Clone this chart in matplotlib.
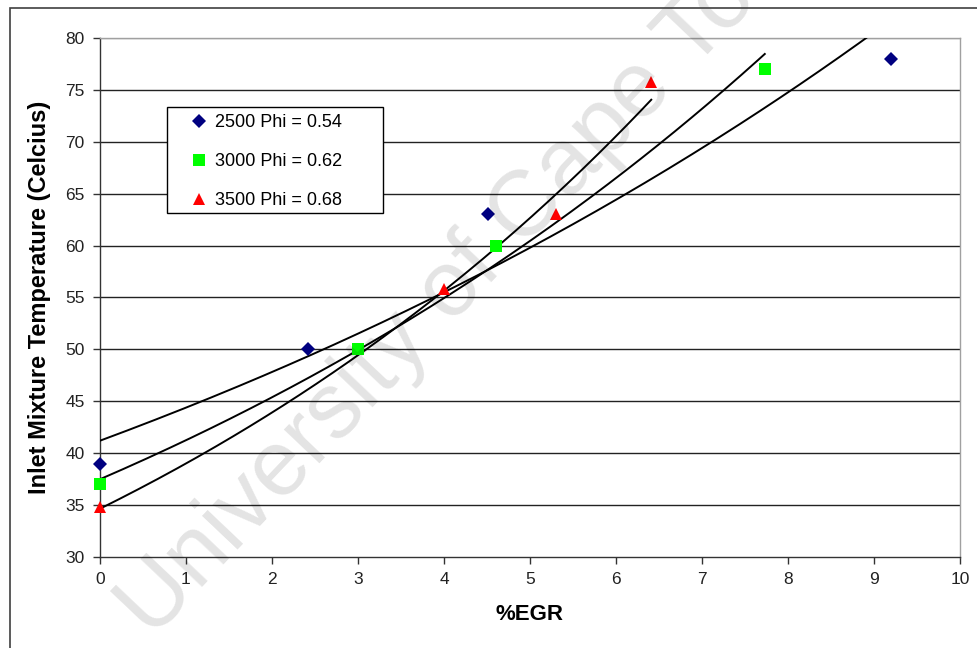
import numpy as np
import matplotlib
matplotlib.use("Agg")
import matplotlib.pyplot as plt
from matplotlib.patches import Rectangle
from matplotlib.lines import Line2D

plt.rcParams['font.family'] = ['Liberation Sans', 'DejaVu Sans']

# Data
x2500 = [0.0, 2.42, 4.51, 9.2]
y2500 = [39.0, 50.0, 63.0, 78.0]
x3000 = [0.0, 3.0, 4.6, 7.73]
y3000 = [37.0, 50.0, 60.0, 77.0]
x3500 = [0.0, 4.0, 5.3, 6.41]
y3500 = [34.8, 55.8, 63.0, 75.8]
labels = ["2500 Phi = 0.54", "3000 Phi = 0.62", "3500 Phi = 0.68"]
xticks = list(range(0, 11))
yticks = list(range(30, 81, 5))

W, H = 978, 648
fig = plt.figure(figsize=(W / 100, H / 100), dpi=100)
fig.patch.set_facecolor('white')

# outer chart border
fig.patches.append(Rectangle((10 / W, -0.1), 1.2, 1 - 8 / H + 0.1, transform=fig.transFigure,
                             fill=False, edgecolor='#404040', linewidth=1.2))

ax = fig.add_axes([100 / W, 1 - 557 / H, 860 / W, 519 / H])
ax.set_xlim(0, 10)
ax.set_ylim(30, 80)
ax.set_xticks(xticks)
ax.set_yticks(yticks)
ax.tick_params(direction='out', length=5, width=1, color='#333333', labelsize=12.5,
               labelcolor='#222222', pad=6)
for y in yticks[1:-1]:
    ax.axhline(y, color='#222222', linewidth=1, zorder=1)
ax.axhline(80, color='#999999', linewidth=1, zorder=1)
for s in ['left', 'bottom']:
    ax.spines[s].set_color('#333333')
    ax.spines[s].set_linewidth(1)
for s in ['top', 'right']:
    ax.spines[s].set_color('#a0a0a0')
    ax.spines[s].set_linewidth(1)

series = [
    (x2500, y2500, 'D', '#000080', 7),
    (x3000, y3000, 's', '#00ff00', 8.5),
    (x3500, y3500, '^', '#ff0000', 9),
]
handles = []
for xs, ys, m, c, ms in series:
    # exponential trendline y = a * exp(b x)
    b, lna = np.polyfit(xs, np.log(ys), 1)
    xx = np.linspace(min(xs), max(xs), 200)
    ax.plot(xx, np.exp(lna) * np.exp(b * xx), color='black', linewidth=1.4, zorder=3)
    ax.plot(xs, ys, linestyle='none', marker=m, color=c, markersize=ms,
            markeredgewidth=0, zorder=4, clip_on=False)
    handles.append(Line2D([], [], linestyle='none', marker=m, color=c, markersize=ms,
                          markeredgewidth=0))

ax.set_xlabel('%EGR', fontsize=16, fontweight='bold', labelpad=12)
ax.set_ylabel('Inlet Mixture Temperature (Celcius)', fontsize=17, fontweight='bold', labelpad=10)

# legend box drawn explicitly
ax.add_patch(Rectangle((167 / W, 1 - 213 / H), 216 / W, 106 / H, transform=fig.transFigure,
                       facecolor='white', edgecolor='black', linewidth=1, zorder=5,
                       clip_on=False))
leg = ax.legend(handles, labels, loc='upper left', bbox_to_anchor=(183 / W, 1 - 109 / H),
                bbox_transform=fig.transFigure, frameon=False, fontsize=13, labelspacing=1.22,
                handlelength=1.2, handletextpad=0.25, borderpad=0.3, borderaxespad=0)
leg.set_zorder(6)

# watermark
ax.text(152 / W, 1 - 640 / H, 'University of Cape Town', transform=fig.transFigure,
        rotation=46.5, rotation_mode='anchor', ha='left', va='baseline',
        fontsize=67, color='black', alpha=0.11, zorder=7, clip_on=False)

fig.savefig('out.png', dpi=100)
